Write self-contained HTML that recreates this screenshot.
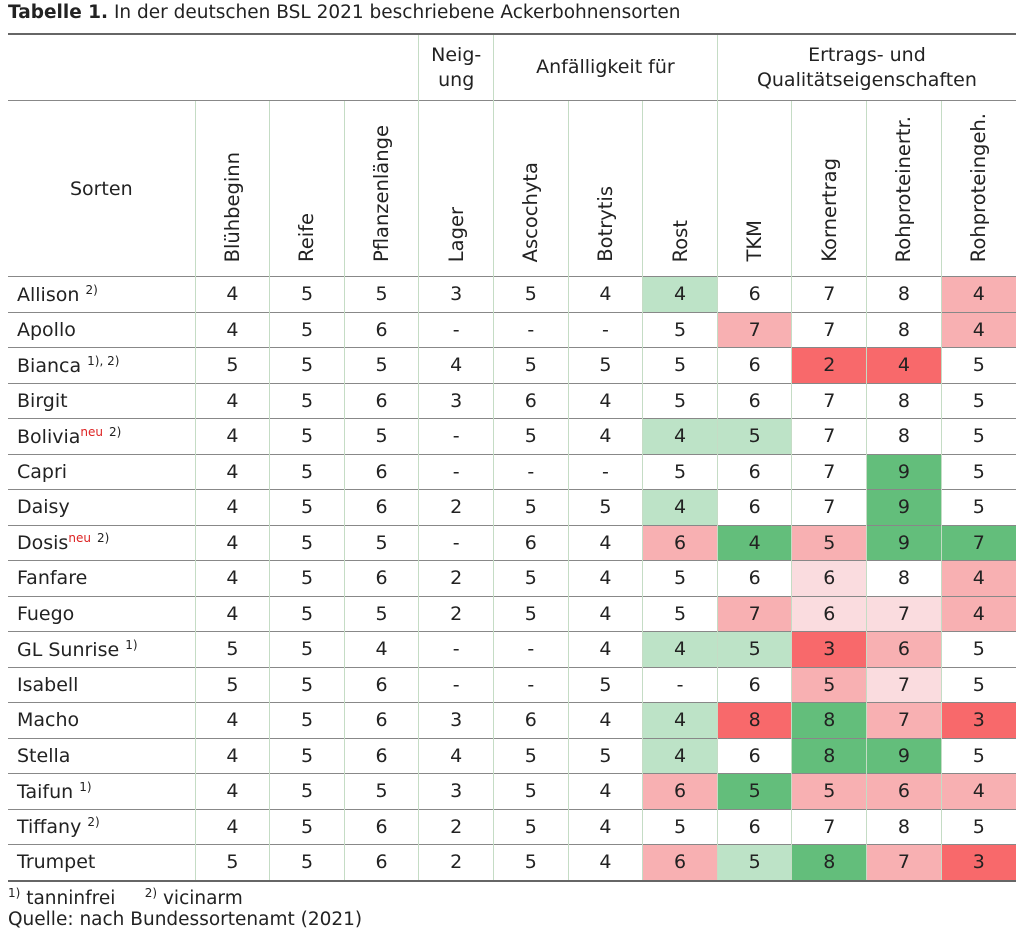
<!DOCTYPE html>
<html><head><meta charset="utf-8">
<style>
body{margin:0;background:#fff;width:1024px;height:935px;overflow:hidden;font-family:"DejaVu Sans","Liberation Sans",sans-serif;color:#222;position:relative}
.title{position:absolute;left:8px;top:2px;font-size:18.5px;white-space:nowrap}
table{position:absolute;left:8px;top:33px;border-collapse:collapse;table-layout:fixed;width:1008px}
td{padding:0;text-align:center;font-size:19px;border-left:1px solid #c5dcc5;border-top:1px solid #888;white-space:nowrap}
td:first-child{border-left:none;text-align:left;padding-left:9px}
tr.h1 td{height:65px;font-size:19px;line-height:25px;vertical-align:middle;border-top:2px solid #666}
tr.h2 td{height:175px;vertical-align:bottom}
tr.h2 td:first-child{vertical-align:middle;text-align:center;padding-left:0}
tr.d td{height:34.5px}
tr.last td{border-bottom:2px solid #666}
.rot{writing-mode:vertical-rl;transform:rotate(180deg);display:inline-block;padding-top:9px;font-size:19.5px}
.lg{background:#bde3c7}.g{background:#63be7b}.lr{background:#f8b0b2}.r{background:#f8696b}.p{background:#fadcdf}
sup{font-size:12px;vertical-align:7px}
.neu{color:#d22}
.foot{position:absolute;left:8px;font-size:18.5px;white-space:nowrap}
</style></head><body>
<div class="title"><b>Tabelle 1.</b> In der deutschen BSL 2021 beschriebene Ackerbohnensorten</div>
<table>
<colgroup><col style="width:187px"><col span="11" style="width:74.6px"></colgroup>
<tr class="h1"><td colspan="4" style="border-left:none"></td><td>Neig-<br>ung</td><td colspan="3">Anfälligkeit für</td><td colspan="4">Ertrags- und<br>Qualitätseigenschaften</td></tr>
<tr class="h2"><td>Sorten</td><td><span class="rot">Blühbeginn</span></td><td><span class="rot">Reife</span></td><td><span class="rot">Pflanzenlänge</span></td><td><span class="rot">Lager</span></td><td><span class="rot">Ascochyta</span></td><td><span class="rot">Botrytis</span></td><td><span class="rot">Rost</span></td><td><span class="rot">TKM</span></td><td><span class="rot">Kornertrag</span></td><td><span class="rot">Rohproteinertr.</span></td><td><span class="rot">Rohproteingeh.</span></td></tr>
<tr class="d"><td>Allison <sup>2)</sup></td><td>4</td><td>5</td><td>5</td><td>3</td><td>5</td><td>4</td><td class="lg">4</td><td>6</td><td>7</td><td>8</td><td class="lr">4</td></tr>
<tr class="d"><td>Apollo</td><td>4</td><td>5</td><td>6</td><td>-</td><td>-</td><td>-</td><td>5</td><td class="lr">7</td><td>7</td><td>8</td><td class="lr">4</td></tr>
<tr class="d"><td>Bianca <sup>1), 2)</sup></td><td>5</td><td>5</td><td>5</td><td>4</td><td>5</td><td>5</td><td>5</td><td>6</td><td class="r">2</td><td class="r">4</td><td>5</td></tr>
<tr class="d"><td>Birgit</td><td>4</td><td>5</td><td>6</td><td>3</td><td>6</td><td>4</td><td>5</td><td>6</td><td>7</td><td>8</td><td>5</td></tr>
<tr class="d"><td>Bolivia<sup class="neu">neu</sup> <sup>2)</sup></td><td>4</td><td>5</td><td>5</td><td>-</td><td>5</td><td>4</td><td class="lg">4</td><td class="lg">5</td><td>7</td><td>8</td><td>5</td></tr>
<tr class="d"><td>Capri</td><td>4</td><td>5</td><td>6</td><td>-</td><td>-</td><td>-</td><td>5</td><td>6</td><td>7</td><td class="g">9</td><td>5</td></tr>
<tr class="d"><td>Daisy</td><td>4</td><td>5</td><td>6</td><td>2</td><td>5</td><td>5</td><td class="lg">4</td><td>6</td><td>7</td><td class="g">9</td><td>5</td></tr>
<tr class="d"><td>Dosis<sup class="neu">neu</sup> <sup>2)</sup></td><td>4</td><td>5</td><td>5</td><td>-</td><td>6</td><td>4</td><td class="lr">6</td><td class="g">4</td><td class="lr">5</td><td class="g">9</td><td class="g">7</td></tr>
<tr class="d"><td>Fanfare</td><td>4</td><td>5</td><td>6</td><td>2</td><td>5</td><td>4</td><td>5</td><td>6</td><td class="p">6</td><td>8</td><td class="lr">4</td></tr>
<tr class="d"><td>Fuego</td><td>4</td><td>5</td><td>5</td><td>2</td><td>5</td><td>4</td><td>5</td><td class="lr">7</td><td class="p">6</td><td class="p">7</td><td class="lr">4</td></tr>
<tr class="d"><td>GL Sunrise <sup>1)</sup></td><td>5</td><td>5</td><td>4</td><td>-</td><td>-</td><td>4</td><td class="lg">4</td><td class="lg">5</td><td class="r">3</td><td class="lr">6</td><td>5</td></tr>
<tr class="d"><td>Isabell</td><td>5</td><td>5</td><td>6</td><td>-</td><td>-</td><td>5</td><td>-</td><td>6</td><td class="lr">5</td><td class="p">7</td><td>5</td></tr>
<tr class="d"><td>Macho</td><td>4</td><td>5</td><td>6</td><td>3</td><td>6</td><td>4</td><td class="lg">4</td><td class="r">8</td><td class="g">8</td><td class="lr">7</td><td class="r">3</td></tr>
<tr class="d"><td>Stella</td><td>4</td><td>5</td><td>6</td><td>4</td><td>5</td><td>5</td><td class="lg">4</td><td>6</td><td class="g">8</td><td class="g">9</td><td>5</td></tr>
<tr class="d"><td>Taifun <sup>1)</sup></td><td>4</td><td>5</td><td>5</td><td>3</td><td>5</td><td>4</td><td class="lr">6</td><td class="g">5</td><td class="lr">5</td><td class="lr">6</td><td class="lr">4</td></tr>
<tr class="d"><td>Tiffany <sup>2)</sup></td><td>4</td><td>5</td><td>6</td><td>2</td><td>5</td><td>4</td><td>5</td><td>6</td><td>7</td><td>8</td><td>5</td></tr>
<tr class="d last"><td>Trumpet</td><td>5</td><td>5</td><td>6</td><td>2</td><td>5</td><td>4</td><td class="lr">6</td><td class="lg">5</td><td class="g">8</td><td class="lr">7</td><td class="r">3</td></tr>
</table>
<div class="foot" style="top:886px"><sup>1)</sup> tanninfrei &nbsp;&nbsp;&nbsp; <sup>2)</sup> vicinarm</div>
<div class="foot" style="top:909px">Quelle: nach Bundessortenamt (2021)</div>
</body></html>
